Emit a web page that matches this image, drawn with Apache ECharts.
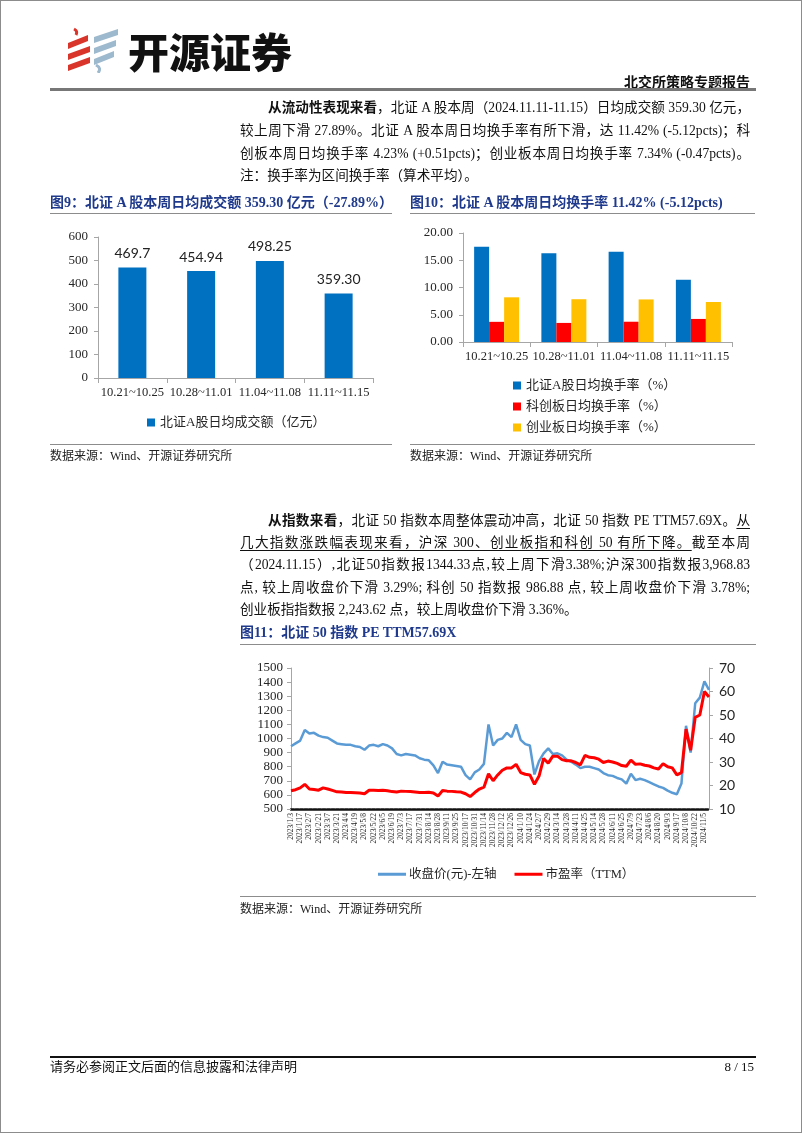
<!DOCTYPE html>
<html><head><meta charset="utf-8">
<script src="https://cdn.jsdelivr.net/npm/echarts/dist/echarts.min.js"></script>
<style>
body{margin:0;background:#fff;}
#page{position:relative;width:802px;height:1133px;overflow:hidden;background:#fff;font-family:"Liberation Serif","Noto Sans CJK SC",serif;color:#111;}
#frame{position:absolute;left:0;top:0;width:800px;height:1131px;border:1px solid #8c8c8c;z-index:3;pointer-events:none;}
#chart{position:absolute;left:0;top:0;width:802px;height:1133px;z-index:1;}
.t{position:absolute;z-index:2;white-space:nowrap;}
.ln{position:absolute;left:240px;width:510px;font-size:13.6px;line-height:20px;height:20px;white-space:nowrap;text-align:justify;text-align-last:justify;z-index:2;}
.ln.last{text-align-last:left;}
.ln.ind{left:268px;width:482px;}
.rule{position:absolute;z-index:2;height:1px;background:#8c8c8c;}
.ftitle{position:absolute;z-index:2;font-size:14px;font-weight:bold;color:#1f3a8c;white-space:nowrap;line-height:18px;}
.src{position:absolute;z-index:2;font-size:12px;color:#222;white-space:nowrap;line-height:14px;}
u{text-decoration-thickness:1px;text-underline-offset:3px;}
</style></head>
<body>
<div id="page">
<div id="chart"></div>
<div id="frame"></div>

<svg class="t" style="left:66px;top:27px" width="58" height="46" viewBox="0 0 58 46">
  <path d="M8 2 q4 2 2 6" stroke="#d9352b" stroke-width="3" fill="none"/>
  <polygon points="2,16 22,8 22,14 2,22" fill="#d9352b"/>
  <polygon points="2,27 24,19 24,25 2,33" fill="#d9352b"/>
  <polygon points="2,38 24,30 24,36 2,44" fill="#d9352b"/>
  <polygon points="28,10 52,2 52,8 28,16" fill="#9db9cd"/>
  <polygon points="28,21 50,13 50,19 28,27" fill="#9db9cd"/>
  <polygon points="28,32 48,24 48,30 28,38" fill="#9db9cd"/>
  <path d="M30 38 q6 3 2 8" stroke="#9db9cd" stroke-width="3" fill="none"/>
</svg>
<div class="t" style="left:128px;top:26px;font-family:'Noto Sans CJK SC';font-weight:900;font-size:41px;line-height:48px;color:#111;">开源证券</div>
<div class="t" style="right:52px;top:74px;font-size:14px;font-weight:bold;line-height:18px;">北交所策略专题报告</div>
<div class="rule" style="left:50px;top:88px;width:706px;height:3px;background:#777;"></div>

<div class="ln ind" style="top:98px"><b>从流动性表现来看</b>，北证 A 股本周（2024.11.11-11.15）日均成交额 359.30 亿元，</div>
<div class="ln" style="top:121px">较上周下滑 27.89%。北证 A 股本周日均换手率有所下滑，达 11.42% (-5.12pcts)；科</div>
<div class="ln" style="top:144px">创板本周日均换手率 4.23% (+0.51pcts)；创业板本周日均换手率 7.34% (-0.47pcts)。</div>
<div class="ln last" style="top:166px">注：换手率为区间换手率（算术平均）。</div>

<div class="ftitle" style="left:50px;top:194px">图9：北证 A 股本周日均成交额 359.30 亿元（-27.89%）</div>
<div class="rule" style="left:50px;top:213px;width:342px;"></div>
<div class="ftitle" style="left:410px;top:194px">图10：北证 A 股本周日均换手率 11.42% (-5.12pcts)</div>
<div class="rule" style="left:410px;top:213px;width:345px;"></div>

<div class="rule" style="left:50px;top:444px;width:342px;"></div>
<div class="src" style="left:50px;top:449px">数据来源：Wind、开源证券研究所</div>
<div class="rule" style="left:410px;top:444px;width:345px;"></div>
<div class="src" style="left:410px;top:449px">数据来源：Wind、开源证券研究所</div>

<div class="ln ind" style="top:511px"><b>从指数来看</b>，北证 50 指数本周整体震动冲高，北证 50 指数 PE TTM57.69X。<u>从</u></div>
<div class="ln" style="top:533px"><u>几大指数涨跌幅表现来看，沪深 300、创业板指和科创 50 有所下降。</u>截至本周</div>
<div class="ln" style="top:555px">（2024.11.15）,北证50指数报1344.33点,较上周下滑3.38%;沪深300指数报3,968.83</div>
<div class="ln" style="top:578px">点, 较上周收盘价下滑 3.29%; 科创 50 指数报 986.88 点, 较上周收盘价下滑 3.78%;</div>
<div class="ln last" style="top:600px">创业板指指数报 2,243.62 点，较上周收盘价下滑 3.36%。</div>

<div class="ftitle" style="left:240px;top:624px">图11：北证 50 指数 PE TTM57.69X</div>
<div class="rule" style="left:240px;top:644px;width:516px;"></div>

<div class="rule" style="left:240px;top:896px;width:516px;"></div>
<div class="src" style="left:240px;top:902px">数据来源：Wind、开源证券研究所</div>

<div class="rule" style="left:50px;top:1056px;width:706px;height:2px;background:#111;"></div>
<div class="t" style="left:50px;top:1059px;font-size:13px;line-height:16px;">请务必参阅正文后面的信息披露和法律声明</div>
<div class="t" style="right:48px;top:1059px;font-size:13px;line-height:16px;">8 / 15</div>
</div>

<script>
// ---- data ----
const weeks = ['10.21~10.25', '10.28~11.01', '11.04~11.08', '11.11~11.15'];
const volume = [469.7, 454.94, 498.25, 359.30];
const volumeLabels = ['469.7', '454.94', '498.25', '359.30'];
const volumeName = '北证A股日均成交额（亿元）';

const turnoverBSE = [17.5, 16.3, 16.54, 11.42];
const turnoverSTAR = [3.7, 3.5, 3.72, 4.23];
const turnoverChiNext = [8.2, 7.85, 7.81, 7.34];
const turnoverNames = ['北证A股日均换手率（%）', '科创板日均换手率（%）', '创业板日均换手率（%）'];

const dates = ['2023/1/3','2023/1/10','2023/1/17','2023/1/31','2023/2/7','2023/2/14','2023/2/21','2023/2/28','2023/3/7','2023/3/14','2023/3/21','2023/3/28','2023/4/4','2023/4/11','2023/4/19','2023/4/26','2023/5/8','2023/5/15','2023/5/22','2023/5/29','2023/6/5','2023/6/12','2023/6/19','2023/6/27','2023/7/3','2023/7/10','2023/7/17','2023/7/24','2023/7/31','2023/8/7','2023/8/14','2023/8/21','2023/8/28','2023/9/4','2023/9/11','2023/9/18','2023/9/25','2023/10/10','2023/10/17','2023/10/24','2023/10/31','2023/11/7','2023/11/14','2023/11/21','2023/11/28','2023/12/5','2023/12/12','2023/12/19','2023/12/26','2024/1/3','2024/1/10','2024/1/17','2024/1/24','2024/1/31','2024/2/7','2024/2/22','2024/2/29','2024/3/7','2024/3/14','2024/3/21','2024/3/28','2024/4/3','2024/4/11','2024/4/18','2024/4/25','2024/5/7','2024/5/14','2024/5/21','2024/5/28','2024/6/4','2024/6/11','2024/6/18','2024/6/25','2024/7/2','2024/7/9','2024/7/16','2024/7/23','2024/7/30','2024/8/6','2024/8/13','2024/8/20','2024/8/27','2024/9/3','2024/9/10','2024/9/17','2024/9/26','2024/10/8','2024/10/15','2024/10/22','2024/10/29','2024/11/5','2024/11/15'];
const close50 = [945,965,985,1060,1035,1040,1020,1010,1005,985,965,960,955,955,945,940,920,950,955,945,960,950,930,890,880,890,885,880,860,850,845,810,755,835,815,810,805,800,740,710,760,780,820,1100,950,990,1000,1040,1010,1100,990,960,950,745,840,895,930,890,895,880,850,835,815,790,800,800,790,780,755,740,735,720,710,680,750,705,715,705,690,675,660,650,630,615,605,680,1090,900,1250,1290,1405,1345];
const pe50 = [17.8,18.2,19.0,20.5,18.5,18.3,18.0,19.0,18.5,17.9,17.3,17.2,17.0,17.0,16.9,16.8,16.5,18.0,18.0,17.9,18.0,17.8,17.4,17.2,17.6,17.5,17.4,17.2,17.0,17.0,17.1,16.8,15.5,17.9,17.6,17.5,17.3,17.2,16.5,15.3,17.0,18.5,19.3,25.0,22.0,24.5,26.5,27.5,27.5,29.0,25.5,24.8,24.5,20.5,24.0,31.5,29.5,32.5,32.5,31.0,30.5,30.5,29.8,28.8,32.8,32.0,31.8,31.2,29.8,30.4,30.0,29.4,28.5,28.2,30.8,29.0,29.2,28.6,28.3,27.5,27.0,29.3,28.0,27.5,24.5,25.5,44.0,35.0,49.0,50.0,60.0,57.7];
const lineNames = ['收盘价(元)-左轴', '市盈率（TTM）'];

// ---- chart ----
const serif = '"Liberation Serif","Noto Sans CJK SC",serif';
const txt = '#262626';
const gray = '#a6a6a6';
const chart = echarts.init(document.getElementById('chart'), null, {renderer: 'canvas'});

function barX(i) {
  return {
    gridIndex: i, type: 'category', data: weeks,
    axisLine: {show: true, lineStyle: {color: gray, width: 1}},
    axisTick: {show: true, interval: 0, length: 5, lineStyle: {color: gray}},
    axisLabel: {interval: 0, hideOverlap: false, color: txt, fontFamily: serif, fontSize: 12.5, margin: 8},
    splitLine: {show: false}
  };
}
const plain = v => String(v);

chart.setOption({
  animation: false,
  backgroundColor: 'transparent',
  grid: [
    {left: 98, top: 237, width: 275, height: 141},
    {left: 463, top: 233, width: 269, height: 109},
    {left: 291, top: 668, width: 418, height: 141}
  ],
  xAxis: [
    barX(0),
    barX(1),
    {
      gridIndex: 2, type: 'category', data: dates, boundaryGap: false,
      axisLine: {show: true, lineStyle: {color: '#111', width: 2.5, type: [3, 1.5]}},
      axisTick: {show: false},
      axisLabel: {interval: 1, hideOverlap: false, rotate: 90, color: txt, fontFamily: serif, fontSize: 7.5, margin: 4},
      splitLine: {show: false}
    }
  ],
  yAxis: [
    {
      gridIndex: 0, type: 'value', min: 0, max: 600, interval: 100,
      axisLine: {show: true, lineStyle: {color: gray}},
      axisTick: {show: true, length: 4, lineStyle: {color: gray}},
      axisLabel: {color: txt, fontFamily: serif, fontSize: 13, margin: 10, formatter: plain},
      splitLine: {show: false}
    },
    {
      gridIndex: 1, type: 'value', min: 0, max: 20, interval: 5,
      axisLine: {show: true, lineStyle: {color: gray}},
      axisTick: {show: true, length: 4, lineStyle: {color: gray}},
      axisLabel: {color: txt, fontFamily: serif, fontSize: 13, margin: 10, formatter: v => v.toFixed(2)},
      splitLine: {show: false}
    },
    {
      gridIndex: 2, type: 'value', min: 500, max: 1500, interval: 100, position: 'left',
      axisLine: {show: true, lineStyle: {color: gray}},
      axisTick: {show: true, length: 4, lineStyle: {color: gray}},
      axisLabel: {color: txt, fontFamily: serif, fontSize: 13, margin: 8, formatter: plain},
      splitLine: {show: false}
    },
    {
      gridIndex: 2, type: 'value', min: 10, max: 70, interval: 10, position: 'right',
      axisLine: {show: true, lineStyle: {color: gray}},
      axisTick: {show: true, length: 4, lineStyle: {color: gray}},
      axisLabel: {color: txt, fontFamily: 'Lato, "Liberation Sans", sans-serif', fontSize: 14, margin: 10, formatter: plain},
      splitLine: {show: false}
    }
  ],
  legend: [
    {
      data: [volumeName], left: 142, top: 411, itemWidth: 8, itemHeight: 8, icon: 'rect',
      textStyle: {color: txt, fontFamily: serif, fontSize: 13}, itemGap: 10
    },
    {
      data: turnoverNames, orient: 'vertical', left: 508, top: 374, itemWidth: 8, itemHeight: 8, icon: 'rect',
      itemGap: 8, textStyle: {color: txt, fontFamily: serif, fontSize: 13}
    },
    {
      data: lineNames, left: 373, top: 863, itemWidth: 28, itemHeight: 3, icon: 'rect', itemGap: 18,
      textStyle: {color: txt, fontFamily: serif, fontSize: 12.5, padding: [0, 0, 0, -2]}
    }
  ],
  series: [
    {
      name: volumeName, type: 'bar', xAxisIndex: 0, yAxisIndex: 0, data: volume, barWidth: 28,
      itemStyle: {color: '#0070c0'},
      label: {show: true, position: 'top', distance: 7, color: '#222', fontFamily: 'Lato, "Liberation Sans", sans-serif', fontSize: 14,
        formatter: p => volumeLabels[p.dataIndex]}
    },
    {name: turnoverNames[0], type: 'bar', xAxisIndex: 1, yAxisIndex: 1, data: turnoverBSE, barWidth: 15, barGap: '0%', itemStyle: {color: '#0070c0'}},
    {name: turnoverNames[1], type: 'bar', xAxisIndex: 1, yAxisIndex: 1, data: turnoverSTAR, barWidth: 15, barGap: '0%', itemStyle: {color: '#ff0000'}},
    {name: turnoverNames[2], type: 'bar', xAxisIndex: 1, yAxisIndex: 1, data: turnoverChiNext, barWidth: 15, barGap: '0%', itemStyle: {color: '#ffc000'}},
    {
      name: lineNames[0], type: 'line', xAxisIndex: 2, yAxisIndex: 2, data: close50, showSymbol: false, symbol: 'none',
      lineStyle: {color: '#5b9bd5', width: 2.5}, itemStyle: {color: '#5b9bd5'}, z: 2
    },
    {
      name: lineNames[1], type: 'line', xAxisIndex: 2, yAxisIndex: 3, data: pe50, showSymbol: false, symbol: 'none',
      lineStyle: {color: '#ff0000', width: 3}, itemStyle: {color: '#ff0000'}, z: 3
    }
  ]
});
</script>
</body></html>
